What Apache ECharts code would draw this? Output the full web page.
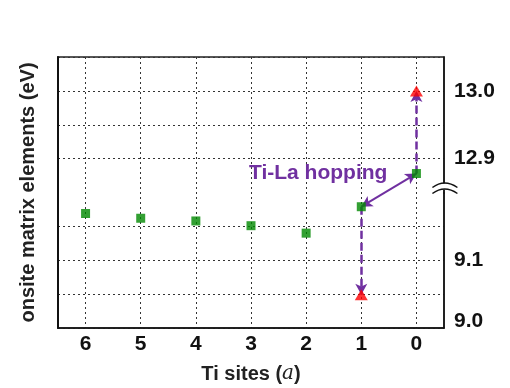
<!DOCTYPE html>
<html>
<head>
<meta charset="utf-8">
<script src="https://cdn.jsdelivr.net/npm/echarts@6/dist/echarts.min.js"></script>
<style>
html,body{margin:0;padding:0;background:#fff}
#main{width:510px;height:388px}
</style>
</head>
<body>
<div id="main"></div>
<script>
// Ti sites, left to right
const sites = ['6', '5', '4', '3', '2', '1', '0'];
// green squares: onsite matrix elements (eV)
const onsite = [9.169, 9.162, 9.158, 9.151, 9.140, 9.179, 12.878];
// red triangles
const shifted = [null, null, null, null, null, 9.049, 13.000];
// right axis labels that are shown
const yLabels = ['9.0', '9.1', '12.9', '13.0'];
const yMin = 9.0, yMax = 13.05, yStep = 0.05;
const breakLow = 9.2, breakHigh = 12.85;

const purple = '#7030a0';
const font = 'Liberation Sans';
const gridLine = { color: '#333', type: [2, 3], width: 1 };

const chart = echarts.init(document.getElementById('main'));

let option = {
	animation: false,
	grid: {
		left: 58, right: 66, top: 57, bottom: 60, outerBoundsMode: 'none',
		show: true, borderColor: '#222', borderWidth: 1.5,
	},
	xAxis: {
		type: 'category',
		data: sites,
		boundaryGap: true,
		name: '{n|Ti sites (}{i|a}{n|)}',
		nameLocation: 'middle',
		nameGap: 36,
		nameTextStyle: {
			rich: {
				n: { fontFamily: font, fontWeight: 'bold', fontSize: 20, color: '#222' },
				i: { fontFamily: 'DejaVu Serif', fontStyle: 'italic', fontSize: 20, color: '#222' },
			},
		},
		axisLine: { lineStyle: { color: '#111', width: 1.5 } },
		axisTick: { show: false },
		axisLabel: { margin: 6, fontFamily: font, fontWeight: 'bold', fontSize: 21, color: '#111' },
		splitLine: { show: true, alignWithLabel: true, lineStyle: gridLine },
	},
	yAxis: [
		{
			type: 'value',
			position: 'right',
			min: yMin,
			max: yMax,
			interval: yStep,
			breaks: [{ start: breakLow, end: breakHigh, gap: 0 }],
			breakArea: { show: false },
			axisLine: { show: true, lineStyle: { color: '#111', width: 1.5 } },
			axisTick: { show: false },
			axisLabel: {
				margin: 10,
				fontFamily: font, fontWeight: 'bold', fontSize: 21, color: '#111',
				formatter: function (v) {
					let l = yLabels.find(s => Math.abs(parseFloat(s) - v) < 1e-6);
					if (!l) return '';
					return l === '9.0' ? '{low|' + l + '}' : l;
				},
				rich: { low: { fontFamily: font, fontWeight: 'bold', fontSize: 21, color: '#111', padding: [0, 0, 14, 0] } },
			},
			splitLine: { show: true, lineStyle: gridLine },
		},
		{
			type: 'value',
			position: 'left',
			min: 0,
			max: 1,
			name: 'onsite matrix elements (eV)',
			nameLocation: 'middle',
			nameGap: 20,
			nameTextStyle: { fontFamily: font, fontWeight: 'bold', fontSize: 20, color: '#222' },
			axisLine: { show: true, lineStyle: { color: '#111', width: 2 } },
			axisTick: { show: false },
			axisLabel: { show: false },
			splitLine: { show: false },
		},
	],
	series: [
		{
			// arrows
			type: 'line',
			data: [],
			z: 1,
			markLine: {
				silent: true,
				symbolSize: [9, 11],
				label: { show: false },
				data: [
					[
						{ coord: [sites[6], onsite[6]], symbol: 'none', lineStyle: { color: purple, width: 2.5, type: [8, 4] } },
						{ coord: [sites[6], shifted[6]], symbol: 'arrow' },
					],
					[
						{ coord: [sites[5], onsite[5]], symbol: 'none', lineStyle: { color: purple, width: 2.5, type: [8, 4] } },
						{ coord: [sites[5], shifted[5]], symbol: 'arrow' },
					],
					[
						{ coord: [sites[6], onsite[6]], symbol: 'arrow', lineStyle: { color: purple, width: 2, type: 'solid' } },
						{ coord: [sites[5], onsite[5]], symbol: 'arrow' },
					],
				],
			},
		},
		{
			type: 'scatter',
			data: onsite,
			symbol: 'rect',
			symbolSize: 9,
			itemStyle: { color: '#008800' },
			z: 5,
		},
		{
			type: 'scatter',
			data: shifted,
			symbol: 'triangle',
			symbolSize: [13, 11],
			itemStyle: { color: '#ff0000' },
			z: 5,
		},
	],
};
chart.setOption(option);

// break mark on the right axis
const yb = chart.convertToPixel({ yAxisIndex: 0 }, breakLow);
const xr = chart.convertToPixel({ xAxisIndex: 0 }, sites[6]) + 28;
chart.setOption({
	graphic: [
		{ type: 'rect', shape: { x: xr - 3, y: yb - 9, width: 6, height: 6 }, style: { fill: '#fff' }, z: 20 },
		{ type: 'bezierCurve', shape: { x1: xr - 12, y1: yb - 5, x2: xr + 13, y2: yb - 5, cpx1: xr, cpy1: yb - 14 }, style: { stroke: '#111', lineWidth: 1.5, fill: null }, z: 21 },
		{ type: 'bezierCurve', shape: { x1: xr - 12, y1: yb + 1, x2: xr + 13, y2: yb + 1, cpx1: xr, cpy1: yb - 8 }, style: { stroke: '#111', lineWidth: 1.5, fill: null }, z: 21 },
		{ type: 'text', x: 249, y: 173, style: { text: 'Ti-La hopping', fontFamily: font, fontWeight: 'bold', fontSize: 21, fill: purple, verticalAlign: 'middle' }, z: 10 },
	],
});
</script>
</body>
</html>
